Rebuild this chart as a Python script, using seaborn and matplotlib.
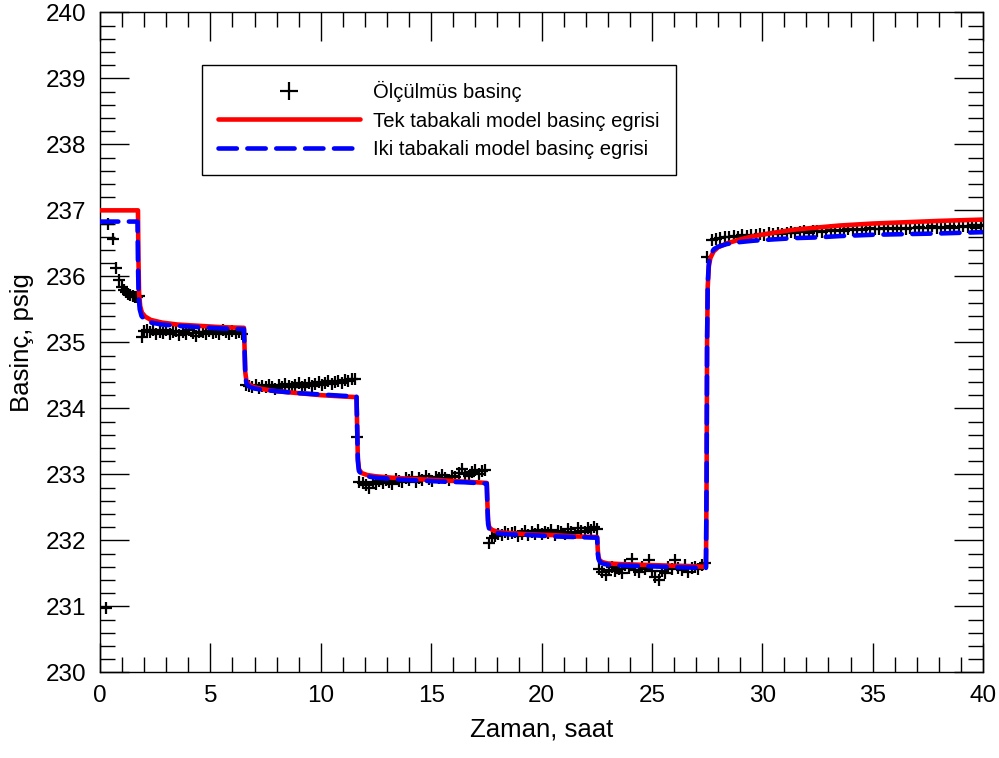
import numpy as np
import pandas as pd
import matplotlib
matplotlib.use('Agg')
import matplotlib.pyplot as plt
from matplotlib.lines import Line2D
import seaborn as sns

t_meas = [0.27, 0.38, 0.59, 0.71, 0.86, 0.98, 1.08, 1.18, 1.28, 1.38, 1.48, 1.58, 1.68, 1.78,
          1.88, 2.0, 2.12, 2.25, 2.4, 2.55, 2.7, 2.85, 3.0, 3.15, 3.3, 3.45, 3.6, 3.75, 3.9, 4.05,
          4.2, 4.35, 4.5, 4.65, 4.8, 4.95, 5.1, 5.25, 5.4, 5.55, 5.7, 5.85, 6.0, 6.15, 6.3, 6.45,
          6.62, 6.75, 6.9, 7.05, 7.2, 7.35, 7.5, 7.65, 7.8, 7.95, 8.1, 8.25, 8.4, 8.55, 8.7, 8.85,
          9.0, 9.15, 9.3, 9.45, 9.6, 9.75, 9.9, 10.05, 10.2, 10.35, 10.5, 10.65, 10.8, 10.95, 11.1,
          11.25, 11.4, 11.55, 11.66,
          11.75, 11.9, 12.05, 12.2, 12.35, 12.5, 12.65, 12.8, 12.95, 13.1, 13.25, 13.4, 13.55, 13.7,
          13.85, 14.0, 14.15, 14.3, 14.45, 14.6, 14.75, 14.9, 15.05, 15.2, 15.35, 15.5, 15.65, 15.8,
          15.95, 16.1, 16.25, 16.4, 16.55, 16.7, 16.85, 17.0, 17.15, 17.3, 17.45,
          17.62, 17.75, 17.9, 18.05, 18.2, 18.35, 18.5, 18.65, 18.8, 18.95, 19.1, 19.25, 19.4, 19.55,
          19.7, 19.85, 20.0, 20.15, 20.3, 20.45, 20.6, 20.75, 20.9, 21.05, 21.2, 21.35, 21.5, 21.65,
          21.8, 21.95, 22.1, 22.25, 22.4, 22.5,
          22.62, 22.75, 22.9, 23.05, 23.2, 23.35, 23.5, 23.65, 23.8, 23.95, 24.1, 24.25, 24.4, 24.55,
          24.7, 24.85, 25.0, 25.15, 25.3, 25.45, 25.6, 25.75, 25.9, 26.05, 26.2, 26.35, 26.5, 26.65,
          26.8, 26.95, 27.1, 27.25, 27.4,
          27.5, 27.72, 27.9, 28.1, 28.3, 28.5, 28.7, 28.9, 29.1, 29.3, 29.5, 29.7, 29.9, 30.1, 30.3,
          30.5, 30.7, 30.9, 31.1, 31.3, 31.5, 31.7, 31.9, 32.1, 32.3, 32.5, 32.7, 32.9, 33.1, 33.3,
          33.5, 33.7, 33.9, 34.1, 34.3, 34.5, 34.7, 34.9, 35.1, 35.3, 35.5, 35.7, 35.9, 36.1, 36.3,
          36.5, 36.7, 36.9, 37.1, 37.3, 37.5, 37.7, 37.9, 38.1, 38.3, 38.5, 38.7, 38.9, 39.1, 39.3,
          39.5, 39.7, 39.9]
p_meas = [230.98, 236.80, 236.56, 236.12, 235.94, 235.84, 235.79, 235.76, 235.74, 235.72, 235.70, 235.69, 235.68, 235.70,
          235.08, 235.17, 235.19, 235.15, 235.18, 235.13, 235.16, 235.14, 235.18, 235.12, 235.15, 235.17, 235.11, 235.16, 235.13, 235.18,
          235.14, 235.10, 235.16, 235.15, 235.12, 235.17, 235.14, 235.16, 235.13, 235.18, 235.15, 235.12, 235.17, 235.14, 235.16, 235.13,
          234.36, 234.34, 234.33, 234.35, 234.31, 234.34, 234.32, 234.36, 234.33, 234.30, 234.35, 234.33, 234.37, 234.34, 234.32, 234.36,
          234.38, 234.33, 234.35, 234.39, 234.34, 234.37, 234.40, 234.36, 234.38, 234.41, 234.37, 234.40, 234.42, 234.39, 234.43,
          234.41, 234.44, 234.45, 233.57,
          232.89, 232.87, 232.84, 232.80, 232.88, 232.85, 232.90, 232.87, 232.92, 232.89, 232.86, 232.93, 232.90, 232.88,
          232.95, 232.91, 232.96, 232.89, 232.94, 232.92, 232.97, 232.93, 232.90, 232.96, 232.94, 232.99, 232.95, 232.92,
          232.98, 232.96, 233.02, 233.08, 233.00, 232.97, 233.04, 233.06, 233.01, 233.05, 233.07,
          231.96, 232.03, 232.06, 232.10, 232.08, 232.12, 232.09, 232.11, 232.13, 232.07, 232.10, 232.14, 232.08, 232.12,
          232.10, 232.15, 232.09, 232.13, 232.11, 232.16, 232.08, 232.14, 232.12, 232.10, 232.17, 232.13, 232.11, 232.19,
          232.14, 232.12, 232.18, 232.15, 232.20, 232.17,
          231.56, 231.52, 231.48, 231.55, 231.60, 231.53, 231.57, 231.50, 231.62, 231.58, 231.72, 231.55, 231.52, 231.60,
          231.57, 231.70, 231.54, 231.45, 231.40, 231.53, 231.50, 231.60, 231.56, 231.70, 231.58, 231.55, 231.62, 231.52,
          231.58, 231.60, 231.56, 231.63, 231.65,
          236.30, 236.55, 236.57, 236.58, 236.60, 236.59, 236.61, 236.60, 236.62, 236.61, 236.63, 236.62, 236.64, 236.63, 236.65,
          236.64, 236.66, 236.64, 236.66, 236.67, 236.65, 236.67, 236.68, 236.66, 236.68, 236.69, 236.67, 236.69, 236.70, 236.68,
          236.70, 236.69, 236.71, 236.70, 236.72, 236.70, 236.71, 236.73, 236.71, 236.72, 236.74, 236.72, 236.73, 236.71, 236.74,
          236.72, 236.74, 236.73, 236.75, 236.73, 236.74, 236.76, 236.74, 236.75, 236.73, 236.76, 236.74, 236.75, 236.77, 236.75,
          236.76, 236.74, 236.76]

# single-layer model curve
t_tek = [0, 1.72, 1.74, 1.77, 1.82, 1.9, 2.05, 2.3, 2.8, 3.5, 4.5, 5.5, 6.52,
         6.55, 6.58, 6.63, 6.75, 7.0, 7.4, 8.0, 9.0, 10.0, 11.0, 11.62,
         11.65, 11.68, 11.73, 11.85, 12.1, 12.5, 13.2, 14.2, 15.5, 16.5, 17.52,
         17.55, 17.58, 17.63, 17.75, 18.0, 18.5, 19.5, 20.5, 21.5, 22.52,
         22.55, 22.58, 22.63, 22.75, 23.0, 23.6, 24.5, 25.5, 26.5, 27.45,
         27.48, 27.5, 27.53, 27.58, 27.65, 27.8, 28.0, 28.4, 29.0, 29.6, 30.5, 31.5, 32.5, 33.5,
         35.0, 36.5, 38.0, 40.0]
p_tek = [237.0, 237.0, 236.3, 235.75, 235.55, 235.45, 235.39, 235.34, 235.30, 235.27, 235.25, 235.23, 235.22,
         234.9, 234.55, 234.42, 234.36, 234.32, 234.29, 234.26, 234.23, 234.20, 234.18, 234.17,
         233.7, 233.25, 233.08, 233.02, 232.99, 232.97, 232.95, 232.93, 232.91, 232.89, 232.87,
         232.55, 232.3, 232.2, 232.16, 232.13, 232.11, 232.09, 232.08, 232.06, 232.05,
         231.85, 231.75, 231.70, 231.67, 231.65, 231.64, 231.63, 231.62, 231.61, 231.60,
         233.0, 235.0, 235.85, 236.15, 236.28, 236.38, 236.44, 236.50, 236.56, 236.61, 236.66, 236.71, 236.74, 236.77,
         236.80, 236.82, 236.84, 236.86]

# two-layer model curve
t_iki = [0, 1.70, 1.72, 1.75, 1.80, 1.88, 2.0, 2.3, 2.8, 3.5, 4.5, 5.5, 6.52,
         6.55, 6.58, 6.63, 6.75, 7.0, 7.4, 8.0, 9.0, 10.0, 11.0, 11.62,
         11.65, 11.68, 11.73, 11.85, 12.1, 12.5, 13.2, 14.2, 15.5, 16.5, 17.52,
         17.55, 17.58, 17.63, 17.75, 18.0, 18.5, 19.5, 20.5, 21.5, 22.52,
         22.55, 22.58, 22.63, 22.75, 23.0, 23.6, 24.5, 25.5, 26.5, 27.45,
         27.48, 27.5, 27.53, 27.58, 27.65, 27.8, 28.0, 28.4, 29.0, 29.6, 30.5, 31.5, 32.5, 33.5,
         35.0, 36.5, 38.0, 40.0]
p_iki = [236.83, 236.83, 236.2, 235.7, 235.5, 235.40, 235.35, 235.30, 235.27, 235.25, 235.23, 235.21, 235.20,
         234.9, 234.5, 234.38, 234.33, 234.30, 234.28, 234.26, 234.23, 234.21, 234.19, 234.18,
         233.7, 233.2, 233.05, 233.0, 232.97, 232.95, 232.93, 232.91, 232.89, 232.88, 232.86,
         232.5, 232.25, 232.17, 232.13, 232.11, 232.09, 232.08, 232.06, 232.05, 232.04,
         231.8, 231.72, 231.68, 231.65, 231.63, 231.62, 231.61, 231.60, 231.59, 231.58,
         233.0, 235.0, 235.9, 236.2, 236.32, 236.41, 236.45, 236.49, 236.52, 236.54, 236.56, 236.58, 236.59, 236.61,
         236.63, 236.64, 236.65, 236.67]

labels = ['Ölçülmüs basinç', 'Tek tabakali model basinç egrisi', 'Iki tabakali model basinç egrisi']

sns.set_style('ticks')
plt.rcParams['font.family'] = ['Liberation Sans', 'DejaVu Sans']
plt.rcParams['text.color'] = 'black'
plt.rcParams['axes.labelcolor'] = 'black'
plt.rcParams['xtick.color'] = 'black'
plt.rcParams['ytick.color'] = 'black'

fig = plt.figure(figsize=(9.99, 7.58), dpi=100)
ax = fig.add_axes([0.1001, 0.113, 0.8839, 0.8707])

df_meas = pd.DataFrame({'t': t_meas, 'p': p_meas})
sns.scatterplot(data=df_meas, x='t', y='p', marker='+', s=70, color='black', linewidth=1.6, ax=ax, zorder=2)

dash = (0, (4, 2.3))
sns.lineplot(x=t_tek, y=p_tek, sort=False, estimator=None, color='#ff0000', linewidth=3.3,
             solid_capstyle='round', ax=ax, zorder=3)
sns.lineplot(x=t_iki, y=p_iki, sort=False, estimator=None, color='#0000ff', linewidth=3.3,
             linestyle=dash, dash_capstyle='round', ax=ax, zorder=4)

ax.set_xlim(0, 40)
ax.set_ylim(230, 240)
ax.set_xticks(range(0, 41, 5))
ax.set_yticks(range(230, 241))
ax.set_xticks(np.arange(0, 41, 1), minor=True)
ax.set_yticks(np.arange(230, 240.01, 0.2), minor=True)
ax.tick_params(which='both', direction='in', top=True, right=True, color='black', width=1)
ax.tick_params(which='major', length=21, labelsize=17.5)
ax.tick_params(axis='x', which='major', pad=9)
ax.tick_params(axis='y', which='major', pad=10)
ax.tick_params(which='minor', length=11)
for sp in ax.spines.values():
    sp.set_linewidth(1.0)
    sp.set_color('black')

ax.set_xlabel('Zaman, saat', fontsize=18.5, labelpad=8)
ax.set_ylabel('Basinç, psig', fontsize=18.5, labelpad=8)

handles = [Line2D([], [], linestyle='none', marker='+', color='black', markersize=13, markeredgewidth=1.6),
           Line2D([], [], color='#ff0000', linewidth=3.3, solid_capstyle='round'),
           Line2D([], [], color='#0000ff', linewidth=3.3, linestyle=dash, dash_capstyle='round')]
leg = ax.legend(handles, labels, loc='upper left', bbox_to_anchor=(0.1155, 0.92), borderaxespad=0,
                fontsize=14.6, handlelength=7, handletextpad=0.65, labelspacing=0.45,
                borderpad=0.8, fancybox=False, framealpha=1, edgecolor='black')
leg.get_frame().set_linewidth(1.0)

fig.savefig('out.png', dpi=100)
